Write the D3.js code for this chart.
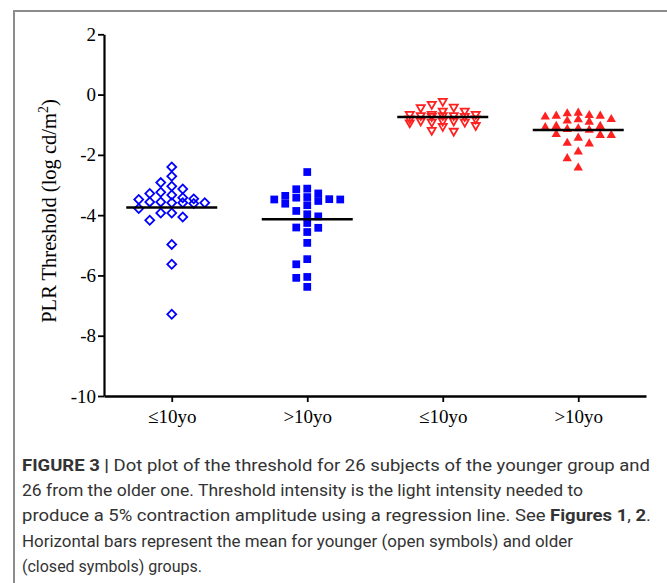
<!DOCTYPE html>
<html>
<head>
<meta charset="utf-8">
<script src="https://cdn.jsdelivr.net/npm/d3@7"></script>
<style>
  body { margin: 0; background: #fff; }
  svg { display: block; }
</style>
</head>
<body>
<svg width="667" height="583"></svg>
<script>
var svg = d3.select('svg');

// group labels on the x axis
var categories = ['≤10yo', '>10yo', '≤10yo', '>10yo'];
var yTicks = [2, 0, -2, -4, -6, -8, -10];

// PLR threshold values (log cd/m2)
var youngBlue = [-2.40, -2.71, -2.92, -3.04, -3.13, -3.24, -3.28, -3.33, -3.42, -3.46,
  -3.48, -3.56, -3.56, -3.59, -3.59, -3.59, -3.61, -3.78, -3.93, -3.93,
  -4.06, -4.17, -4.97, -5.63, -7.29];
var oldBlue = [-2.57, -3.14, -3.12, -3.28, -3.36, -3.42, -3.48, -3.47, -3.40, -3.53,
  -3.48, -3.67, -3.62, -3.86, -3.97, -4.04, -4.26, -4.41, -4.42, -4.56,
  -4.92, -5.46, -5.63, -6.05, -6.08, -6.38];
var youngRed = [-0.22, -0.32, -0.41, -0.43, -0.54, -0.54, -0.65, -0.65, -0.65, -0.69,
  -0.69, -0.69, -0.72, -0.72, -0.80, -0.80, -0.87, -0.87, -0.87, -0.91,
  -0.91, -0.93, -1.02, -1.05, -1.18, -1.21];
var oldRed = [-0.61, -0.69, -0.63, -0.71, -0.74, -0.71, -0.82, -0.87, -0.83, -0.91,
  -1.05, -1.05, -1.13, -1.09, -1.18, -1.15, -1.32, -1.35, -1.35, -1.44,
  -1.63, -1.61, -1.90, -2.12, -2.43];

var caption = [
  [['FIGURE 3 |', true], [' Dot plot of the threshold for 26 subjects of the younger group and', false]],
  [['26 from the older one. Threshold intensity is the light intensity needed to', false]],
  [['produce a 5% contraction amplitude using a regression line. See ', false], ['Figures 1', true], [', ', false], ['2', true], ['.', false]],
  [['Horizontal bars represent the mean for younger (open symbols) and older', false]],
  [['(closed symbols) groups.', false]]
];

var blue = '#0000ff', red = '#ff2020';

var groups = [
  {values: youngBlue, shape: 'diamond', fill: 'none', stroke: blue},
  {values: oldBlue, shape: 'square', fill: blue, stroke: 'none'},
  {values: youngRed, shape: 'down', fill: 'none', stroke: red},
  {values: oldRed, shape: 'up', fill: red, stroke: 'none'}
];

// frame around the figure
svg.append('path')
  .attr('d', 'M14,583 V11 H667')
  .attr('fill', 'none')
  .attr('stroke', '#8c8c8c')
  .attr('stroke-width', 2);

var plotLeft = 104, plotRight = 646, plotTop = 34.3, plotBottom = 396;

var y = d3.scaleLinear().domain([-10, 2]).range([plotBottom, plotTop]);
var x = d3.scalePoint().domain([0, 1, 2, 3]).range([plotLeft, plotRight]).padding(0.5);

// y axis
var yAxis = svg.append('g')
  .attr('transform', 'translate(' + plotLeft + ',0)')
  .call(d3.axisLeft(y).tickValues(yTicks).tickSize(6).tickSizeOuter(0).tickPadding(2)
    .tickFormat(function(d) { return String(d); }));
yAxis.select('.domain').attr('stroke-width', 2.2);
yAxis.selectAll('.tick line').attr('stroke-width', 1.8);
yAxis.selectAll('text')
  .attr('font-family', '"Liberation Serif", "Times New Roman", serif')
  .attr('font-size', 19)
  .attr('fill', '#000');

// x axis
var xAxis = svg.append('g')
  .attr('transform', 'translate(0,' + plotBottom + ')')
  .call(d3.axisBottom(x).tickSize(6).tickSizeOuter(0).tickPadding(8)
    .tickFormat(function(i) { return categories[i]; }));
xAxis.select('.domain').attr('stroke-width', 2.6);
xAxis.selectAll('.tick line').attr('stroke-width', 1.8);
xAxis.selectAll('text')
  .attr('font-family', '"Liberation Serif", "Times New Roman", serif')
  .attr('font-size', 19)
  .attr('fill', '#000');

// y axis title
var yTitle = svg.append('text')
  .attr('transform', 'translate(56,211) rotate(-90)')
  .attr('text-anchor', 'middle')
  .attr('font-family', '"Liberation Serif", "Times New Roman", serif')
  .attr('font-size', 20.5)
  .attr('fill', '#000');
yTitle.append('tspan').text('PLR Threshold (log cd/m');
yTitle.append('tspan').attr('dy', -8).attr('font-size', 14).text('2');
yTitle.append('tspan').attr('dy', 8).text(')');

// spread points of one column sideways: each point takes the slot (5.5px steps,
// at most 6 steps out) that overlaps least with the points already placed
function swarm(values, cx) {
  var pts = values.map(function(v) { return {v: v, y: y(v)}; })
    .sort(function(a, b) { return a.y - b.y; });
  var placed = [];
  pts.forEach(function(p) {
    var best = null, bestScore = Infinity;
    for (var k = -6; k <= 6; k++) {
      var off = k * 5.5;
      var score = 0;
      placed.forEach(function(q) {
        var dx = Math.abs(q.x - (cx + off)), dy = Math.abs(q.y - p.y);
        score += Math.max(0, 11 - dx) * Math.max(0, 8 - dy);
      });
      score += Math.abs(k) * 0.01;
      if (score < bestScore) { bestScore = score; best = off; }
    }
    p.x = cx + best;
    placed.push(p);
  });
  return pts;
}

var shapes = {
  diamond: d3.symbol().type(d3.symbolSquare).size(40)(),
  square: d3.symbol().type(d3.symbolSquare).size(60)(),
  down: d3.symbol().type(d3.symbolTriangle).size(28)(),
  up: d3.symbol().type(d3.symbolTriangle).size(38)()
};
var rotate = {diamond: 45, square: 0, down: 180, up: 0};

groups.forEach(function(g, i) {
  var cx = x(i);
  var pts = swarm(g.values, cx);

  svg.append('g').selectAll('path')
    .data(pts)
    .enter()
    .append('path')
    .attr('d', shapes[g.shape])
    .attr('transform', function(d) {
      return 'translate(' + d.x + ',' + d.y + ') rotate(' + rotate[g.shape] + ')';
    })
    .attr('fill', g.fill)
    .attr('stroke', g.stroke)
    .attr('stroke-width', 1.8);

  var m = d3.mean(g.values);
  svg.append('line')
    .attr('x1', cx - 45.5)
    .attr('x2', cx + 45.5)
    .attr('y1', y(m))
    .attr('y2', y(m))
    .attr('stroke', '#000')
    .attr('stroke-width', 2.4);
});

// caption
var lineEnds = [650, 583, 651, 573, null];
caption.forEach(function(parts, i) {
  var t = svg.append('text')
    .attr('x', 22)
    .attr('y', 471 + i * 25.2)
    .attr('font-family', 'Roboto, "Liberation Sans", Arial, sans-serif')
    .attr('font-size', 16)
    .attr('fill', '#333');
  parts.forEach(function(p) {
    t.append('tspan')
      .attr('font-weight', p[1] ? 'bold' : 'normal')
      .text(p[0]);
  });
  if (lineEnds[i]) {
    t.attr('textLength', lineEnds[i] - 22).attr('lengthAdjust', 'spacingAndGlyphs');
  }
});
</script>
</body>
</html>
